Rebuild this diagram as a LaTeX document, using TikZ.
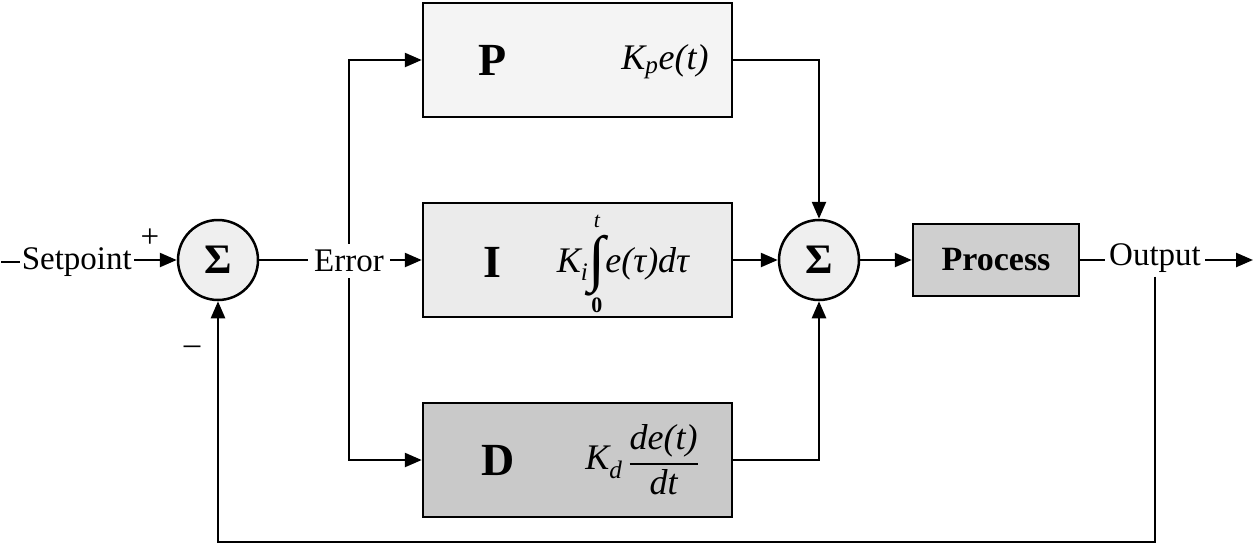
\documentclass[tikz,border=0pt]{standalone}
\usepackage{fontspec}
\setmainfont{Liberation Serif}
\usetikzlibrary{arrows.meta}
\definecolor{pfill}{HTML}{F4F4F4}
\definecolor{ifill}{HTML}{EBEBEB}
\definecolor{dfill}{HTML}{C9C9C9}
\definecolor{prfill}{HTML}{CFCFCF}
\definecolor{sfill}{HTML}{EFEFEF}
\begin{document}
\begin{tikzpicture}[x=1pt,y=-1pt,
  every node/.style={font=\fontsize{33}{40}\selectfont},
  ln/.style={line width=2.5pt},
  arr/.style={line width=2.5pt,-{Triangle[length=17pt,width=14pt]}},
  blk/.style={draw,line width=2.5pt,minimum width=309pt,minimum height=114pt,inner sep=0pt},
  sumnode/.style={draw,circle,line width=2.5pt,fill=sfill,minimum size=80pt,inner sep=0pt},
  biglab/.style={font=\fontsize{46}{50}\selectfont\bfseries},
  mathlab/.style={font=\fontsize{36}{40}\selectfont\itshape}]
\useasboundingbox (0,0) rectangle (1253,547);
% blocks
\node[blk,fill=pfill] (P) at (577.5,60) {};
\node[blk,fill=ifill] (I) at (577.5,260) {};
\node[blk,fill=dfill] (D) at (577.5,460) {};
\node[biglab] (Plab) at (493,60) {P};
\node[biglab] (Ilab) at (492,262) {I};
\node[biglab] (Dlab) at (498,460) {D};
\node[mathlab] (Pf) at (665,62) {K\textsubscript{p}e(t)};
\node[mathlab] (If) at (623,264) {K\textsubscript{i}$\mathop{\vcenter{\hbox{\upshape\fontsize{62}{62}\selectfont ∫}}}\limits^{\hbox{\fontsize{22}{22}\selectfont\itshape\raisebox{0pt}[\height][\dimexpr\depth+7pt]{t}}}_{\hbox{\fontsize{22}{22}\selectfont\upshape\bfseries 0}}$e(τ)dτ};
\node[mathlab] (Df) at (642,460) {K\textsubscript{d}\,$\displaystyle{\hbox{\itshape de(t)}\above 1.8pt\hbox{\itshape dt}}$};
% sums
\node[sumnode] (s1) at (218,260) {\fontsize{42}{44}\selectfont\bfseries Σ};
\node[sumnode] (s2) at (819,260) {\fontsize{42}{44}\selectfont\bfseries Σ};
% process
\node[draw,line width=2.5pt,fill=prfill,minimum width=166pt,minimum height=72pt,inner sep=0pt,font=\fontsize{34}{40}\selectfont\bfseries] (Pr) at (996,260) {Process};
% labels
\node[inner sep=2pt,anchor=east] (SP) at (134,262) {Setpoint};
\coordinate (in) at (1,262);
\node (plus) at (150,238) {+};
\node (minus) at (192,350) {–};
\node[fill=white,inner sep=6pt] (Err) at (349,261) {Error};
\node[inner sep=4pt] (Out) at (1155,258) {Output};
\coordinate (oend) at (1253,260);
\coordinate (fb) at (0,542);
% connectors
\draw[ln] (in) -- (SP.west);
\draw[arr] (SP.east |- s1.west) -- (s1.west);
\draw[ln] (s1.east) -- (Err.west |- s1.east);
\draw[arr] (Err.east |- I.west) -- (I.west);
\draw[arr] (Err.north) |- (P.west);
\draw[arr] (Err.south) |- (D.west);
\draw[arr] (P.east) -| (s2.north);
\draw[arr] (I.east) -- (s2.west);
\draw[arr] (D.east) -| (s2.south);
\draw[arr] (s2.east) -- (Pr.west);
\draw[ln] (Pr.east) -- (Out.west |- Pr.east);
\draw[arr] (Out.east |- oend) -- (oend);
\draw[arr] (Out.south) -- (Out.south |- fb) -| (s1.south);
\end{tikzpicture}
\end{document}
